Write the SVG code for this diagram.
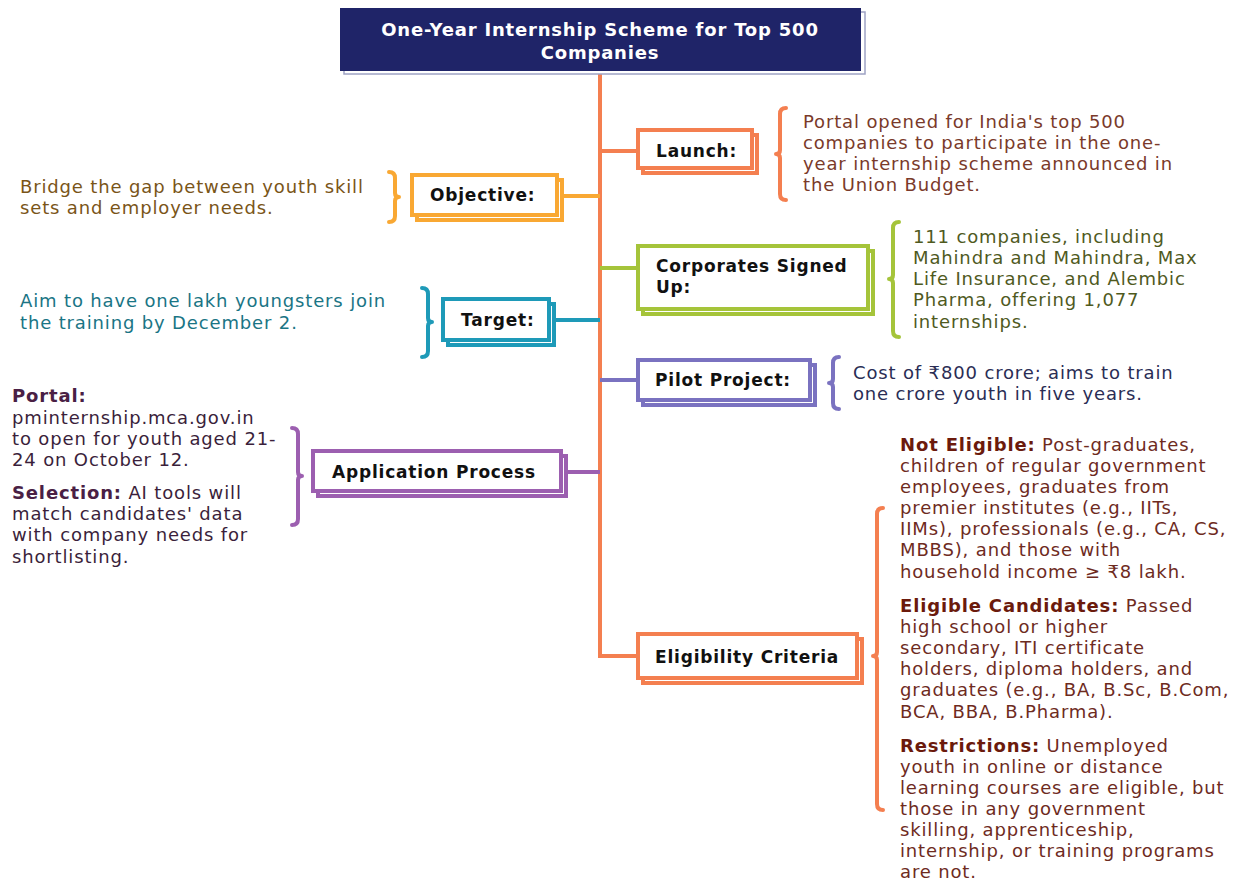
<svg xmlns="http://www.w3.org/2000/svg" width="1233" height="880" viewBox="0 0 1233 880">
<style>
text{font-family:"DejaVu Sans","Liberation Sans",sans-serif}
.body{font-size:18px;letter-spacing:0.85px}
.lbl{font-size:17px;font-weight:bold;fill:#111;letter-spacing:0.8px}
.b{font-weight:bold}
.box{fill:#fff;stroke-width:4}
.conn{fill:none;stroke-width:4;stroke-linecap:butt}
.brace{fill:none;stroke-width:4;stroke-linecap:round;stroke-linejoin:round}
</style>
<rect width="1233" height="880" fill="#fff"/>
<g id="connectors">
<line class="conn" x1="600" y1="72" x2="600" y2="658" stroke="#f47f50" stroke-width="5"/>
<line class="conn" x1="600" y1="151" x2="640" y2="151" stroke="#f47f50"/>
<line class="conn" x1="563" y1="196" x2="600" y2="196" stroke="#f9a833"/>
<line class="conn" x1="600" y1="268" x2="640" y2="268" stroke="#a5c43a"/>
<line class="conn" x1="554" y1="320" x2="600" y2="320" stroke="#1e9ab8"/>
<line class="conn" x1="600" y1="380" x2="640" y2="380" stroke="#7a72c0"/>
<line class="conn" x1="566" y1="472" x2="600" y2="472" stroke="#9c5fb0"/>
<line class="conn" x1="600" y1="656" x2="640" y2="656" stroke="#f47f50"/>
</g>
<g id="title">
<rect x="344" y="12" width="521" height="62" fill="#fff" stroke="#9ea3c4" stroke-width="1.5"/>
<rect x="340" y="8" width="521" height="63" fill="#1f2468"/>
<text x="600" y="36" text-anchor="middle" font-size="18" font-weight="bold" fill="#fff" letter-spacing="0.8">One-Year Internship Scheme for Top 500</text>
<text x="600" y="59" text-anchor="middle" font-size="18" font-weight="bold" fill="#fff" letter-spacing="0.8">Companies</text>
</g>
<g id="launch">
<rect class="box" x="643" y="135" width="114" height="38" stroke="#f47f50"/>
<rect class="box" x="638" y="130" width="114" height="38" stroke="#f47f50"/>
<text class="lbl" x="656" y="157">Launch:</text>
<path class="brace" stroke="#f47f50" d="M786 108 Q780 108 780 114 L780 150 Q780 154 776 154 Q780 154 780 158 L780 194 Q780 200 786 200"/>
<g class="body" fill="#7a3a2a">
<text x="803" y="128">Portal opened for India's top 500</text>
<text x="803" y="149">companies to participate in the one-</text>
<text x="803" y="170">year internship scheme announced in</text>
<text x="803" y="191">the Union Budget.</text>
</g>
</g>
<g id="objective">
<rect class="box" x="417" y="180" width="145" height="40" stroke="#f9a833"/>
<rect class="box" x="412" y="175" width="145" height="40" stroke="#f9a833"/>
<text class="lbl" x="430" y="201">Objective:</text>
<path class="brace" stroke="#f9a833" d="M389 172 Q395 172 395 178 L395 193 Q395 197 399 197 Q395 197 395 201 L395 216 Q395 222 389 222"/>
<g class="body" fill="#7a5518">
<text x="20" y="193">Bridge the gap between youth skill</text>
<text x="20" y="214">sets and employer needs.</text>
</g>
</g>
<g id="corporates">
<rect class="box" x="643" y="251" width="230" height="63" stroke="#a5c43a"/>
<rect class="box" x="638" y="246" width="230" height="63" stroke="#a5c43a"/>
<text class="lbl" x="656" y="272">Corporates Signed</text>
<text class="lbl" x="656" y="293">Up:</text>
<path class="brace" stroke="#a5c43a" d="M899 222 Q893 222 893 228 L893 275 Q893 279 889 279 Q893 279 893 283 L893 331 Q893 337 899 337"/>
<g class="body" fill="#4f5a1e">
<text x="913" y="243">111 companies, including</text>
<text x="913" y="264">Mahindra and Mahindra, Max</text>
<text x="913" y="285">Life Insurance, and Alembic</text>
<text x="913" y="306">Pharma, offering 1,077</text>
<text x="913" y="328">internships.</text>
</g>
</g>
<g id="target">
<rect class="box" x="448" y="304" width="106" height="41" stroke="#1e9ab8"/>
<rect class="box" x="443" y="299" width="106" height="41" stroke="#1e9ab8"/>
<text class="lbl" x="461" y="326">Target:</text>
<path class="brace" stroke="#1e9ab8" d="M422 288 Q428 288 428 294 L428 318 Q428 322 432 322 Q428 322 428 326 L428 351 Q428 357 422 357"/>
<g class="body" fill="#1a7585">
<text x="20" y="307">Aim to have one lakh youngsters join</text>
<text x="20" y="329">the training by December 2.</text>
</g>
</g>
<g id="pilot">
<rect class="box" x="643" y="365" width="172" height="40" stroke="#7a72c0"/>
<rect class="box" x="638" y="360" width="172" height="40" stroke="#7a72c0"/>
<text class="lbl" x="655" y="386">Pilot Project:</text>
<path class="brace" stroke="#7a72c0" d="M839 357 Q833 357 833 363 L833 379 Q833 383 829 383 Q833 383 833 387 L833 403 Q833 409 839 409"/>
<g class="body" fill="#2a2d55">
<text x="853" y="379">Cost of ₹800 crore; aims to train</text>
<text x="853" y="400">one crore youth in five years.</text>
</g>
</g>
<g id="application">
<rect class="box" x="318" y="456" width="248" height="40" stroke="#9c5fb0"/>
<rect class="box" x="313" y="451" width="248" height="40" stroke="#9c5fb0"/>
<text class="lbl" x="332" y="478">Application Process</text>
<path class="brace" stroke="#9c5fb0" d="M292 428 Q298 428 298 434 L298 472 Q298 476 302 476 Q298 476 298 480 L298 519 Q298 525 292 525"/>
<g class="body" fill="#3b1f3b">
<text x="12" y="402" class="b" fill="#4a1f45">Portal:</text>
<text x="12" y="424">pminternship.mca.gov.in</text>
<text x="12" y="445">to open for youth aged 21-</text>
<text x="12" y="466">24 on October 12.</text>
<text x="12" y="499"><tspan class="b" fill="#4a1f45">Selection:</tspan> AI tools will</text>
<text x="12" y="520">match candidates' data</text>
<text x="12" y="541">with company needs for</text>
<text x="12" y="563">shortlisting.</text>
</g>
</g>
<g id="eligibility">
<rect class="box" x="643" y="639" width="219" height="44" stroke="#f47f50"/>
<rect class="box" x="638" y="634" width="219" height="44" stroke="#f47f50"/>
<text class="lbl" x="655" y="663">Eligibility Criteria</text>
<path class="brace" stroke="#f47f50" d="M883 508 Q877 508 877 514 L877 652 Q877 656 873 656 Q877 656 877 660 L877 804 Q877 810 883 810"/>
<g class="body" fill="#6e2b1e">
<text x="900" y="451"><tspan class="b" fill="#6b1a0c">Not Eligible:</tspan> Post-graduates,</text>
<text x="900" y="472">children of regular government</text>
<text x="900" y="493">employees, graduates from</text>
<text x="900" y="514">premier institutes (e.g., IITs,</text>
<text x="900" y="535">IIMs), professionals (e.g., CA, CS,</text>
<text x="900" y="556">MBBS), and those with</text>
<text x="900" y="578">household income ≥ ₹8 lakh.</text>
<text x="900" y="612"><tspan class="b" fill="#6b1a0c">Eligible Candidates:</tspan> Passed</text>
<text x="900" y="633">high school or higher</text>
<text x="900" y="654">secondary, ITI certificate</text>
<text x="900" y="675">holders, diploma holders, and</text>
<text x="900" y="696">graduates (e.g., BA, B.Sc, B.Com,</text>
<text x="900" y="718">BCA, BBA, B.Pharma).</text>
<text x="900" y="752"><tspan class="b" fill="#6b1a0c">Restrictions:</tspan> Unemployed</text>
<text x="900" y="773">youth in online or distance</text>
<text x="900" y="794">learning courses are eligible, but</text>
<text x="900" y="815">those in any government</text>
<text x="900" y="836">skilling, apprenticeship,</text>
<text x="900" y="857">internship, or training programs</text>
<text x="900" y="878">are not.</text>
</g>
</g>
</svg>
